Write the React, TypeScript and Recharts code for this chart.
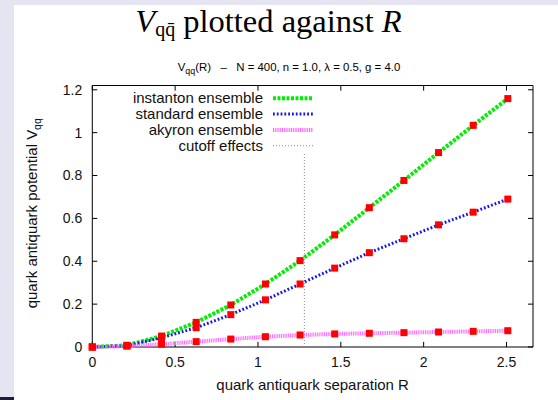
import React from 'react'
import {
	LineChart, Line, XAxis, YAxis, ReferenceArea, ReferenceLine, Legend
} from 'recharts'

// quark-antiquark separation R (lattice units)
const separation = [0, 0.209, 0.418, 0.627, 0.836, 1.045, 1.254, 1.463, 1.672, 1.881, 2.09, 2.299, 2.508]

// potential V_qq for each ensemble
const instanton = [0, 0.008, 0.051, 0.115, 0.196, 0.294, 0.403, 0.523, 0.650, 0.777, 0.907, 1.034, 1.159]
const standard = [0, 0.006, 0.043, 0.090, 0.151, 0.220, 0.294, 0.368, 0.440, 0.505, 0.570, 0.629, 0.690]
const akyron = [0, 0.004, 0.013, 0.025, 0.037, 0.048, 0.056, 0.061, 0.064, 0.067, 0.070, 0.073, 0.076]

const xTicks = [0, 0.5, 1, 1.5, 2, 2.5]
const yTicks = [0, 0.2, 0.4, 0.6, 0.8, 1, 1.2]

const cutoffR = 1.28
const cutoffTop = 0.9

const xMax = 2.66
const yMax = 1.22
// inward tick length, in data units (about 5px)
const tickDx = 0.03
const tickDy = 0.024

const sans = '"Liberation Sans", Arial, Helvetica, sans-serif'
const serif = '"Liberation Serif", "Times New Roman", serif'

const series = [
	{ key: 'instanton', name: 'instanton ensemble', color: '#00ee00', width: 4, dash: '3 1.5' },
	{ key: 'standard', name: 'standard ensemble', color: '#1515ee', width: 3, dash: '1.8 2' },
	{ key: 'akyron', name: 'akyron ensemble', color: '#ff66ff', width: 4, dash: '1 0.8' },
]
const cutoffStyle = { name: 'cutoff effects', color: '#8a8a8a', width: 1, dash: '1 2' }

const data = separation.map((r, i) => ({
	r,
	instanton: instanton[i],
	standard: standard[i],
	akyron: akyron[i],
}))

const RedSquare = (props: any) => {
	const { cx, cy, index } = props
	if (cx == null || cy == null) return null
	return <rect key={index} x={cx - 3.5} y={cy - 3.5} width={7} height={7} fill='#ff0000' />
}

const LegendBox = () => {
	const rows = [...series, cutoffStyle]
	return (
		<svg width={210} height={66}>
			{rows.map((s, i) => {
				const cy = 10.3 + i * 15.8
				return (
					<g key={s.name}>
						<text x={150} y={cy + 5} textAnchor='end' fontSize={15} fontFamily={sans} fill='#111'>
							{s.name}
						</text>
						<line x1={160} x2={200} y1={cy} y2={cy} stroke={s.color}
							strokeWidth={s.width} strokeDasharray={s.dash} />
					</g>
				)
			})}
		</svg>
	)
}

const XLabel = (props: any) => {
	const vb = props.viewBox || { x: 92.3, y: 347, width: 440.7, height: 30 }
	return (
		<text x={vb.x + vb.width / 2} y={vb.y + 43} textAnchor='middle' fontSize={15} fontFamily={sans} fill='#111'>
			quark antiquark separation R
		</text>
	)
}

const YLabel = (props: any) => {
	const vb = props.viewBox || { x: 32.3, y: 85.5, width: 60, height: 261.5 }
	const cx = vb.x + 4.7
	const cy = vb.y + vb.height / 2 - 3
	return (
		<text x={cx} y={cy} transform={`rotate(-90, ${cx}, ${cy})`} textAnchor='middle'
			fontSize={15} fontFamily={sans} fill='#111'>
			quark antiquark potential V<tspan fontSize={10.5} dy={4}>qq</tspan>
		</text>
	)
}

export default function App() {
	return (
		<div style={{ position: 'absolute', left: 0, top: 0, width: 558, height: 400, background: '#e5e5f1', overflow: 'hidden' }}>
			<div style={{ position: 'absolute', left: 14, top: 5, right: 0, bottom: 0, background: '#fff' }} />
			<div style={{ position: 'absolute', left: 0, top: 397, width: 14, height: 3, background: '#1c1c3c' }} />

			<svg width={558} height={85} style={{ position: 'absolute', left: 0, top: 0 }}>
				<text x={268.5} y={32} textAnchor='middle' fontFamily={serif} fontSize={32.5} fill='#000' style={{ whiteSpace: 'pre' }}>
					<tspan fontStyle='italic'>V</tspan>
					<tspan fontSize={20} dy={4}>{'qq\u0304'}</tspan>
					<tspan dy={-4}>{' plotted against '}</tspan>
					<tspan fontStyle='italic'>R</tspan>
				</text>
				<text x={289} y={71} textAnchor='middle' fontFamily={sans} fontSize={11.4} fill='#000' style={{ whiteSpace: 'pre' }}>
					V<tspan fontSize={8.8} dy={3}>qq</tspan>
					<tspan dy={-3}>{'(R)   \u2013   N = 400, n = 1.0, \u03bb = 0.5, g = 4.0'}</tspan>
				</text>
			</svg>

			<div style={{ position: 'absolute', left: 0, top: 0 }}>
				<LineChart width={558} height={400} data={data}
					margin={{ top: 85.5, right: 25, bottom: 23, left: 32.3 }}>
					<XAxis type='number' dataKey='r' domain={[0, xMax]} ticks={xTicks} interval={0}
						axisLine={false} tickLine={false} tickSize={6} tickMargin={4}
						tick={{ fontSize: 14, fontFamily: sans, fill: '#111' }}
						height={30} label={{ content: XLabel }} />
					<YAxis type='number' domain={[0, yMax]} ticks={yTicks} interval={0}
						axisLine={false} tickLine={false} tickSize={6} tickMargin={4}
						tick={{ fontSize: 14, fontFamily: sans, fill: '#111' }}
						width={60} label={{ content: YLabel }} />

					<ReferenceArea x1={0} x2={xMax} y1={0} y2={yMax} fill='none' fillOpacity={0}
						stroke='#000' strokeWidth={1} />

					{/* inward ticks on all four sides */}
					{xTicks.map((t) => (
						<ReferenceLine key={`xb${t}`} segment={[{ x: t, y: 0 }, { x: t, y: tickDy }]} stroke='#000' />
					))}
					{xTicks.map((t) => (
						<ReferenceLine key={`xt${t}`} segment={[{ x: t, y: yMax }, { x: t, y: yMax - tickDy }]} stroke='#000' />
					))}
					{yTicks.map((t) => (
						<ReferenceLine key={`yl${t}`} segment={[{ x: 0, y: t }, { x: tickDx, y: t }]} stroke='#000' />
					))}
					{yTicks.map((t) => (
						<ReferenceLine key={`yr${t}`} segment={[{ x: xMax, y: t }, { x: xMax - tickDx, y: t }]} stroke='#000' />
					))}

					<ReferenceLine segment={[{ x: cutoffR, y: 0 }, { x: cutoffR, y: cutoffTop }]}
						stroke={cutoffStyle.color} strokeWidth={cutoffStyle.width} strokeDasharray={cutoffStyle.dash} />

					{series.map((s) => (
						<Line key={s.key} type='linear' dataKey={s.key} name={s.name} stroke={s.color}
							strokeWidth={s.width} strokeDasharray={s.dash} dot={false} activeDot={false}
							isAnimationActive={false} />
					))}
					{series.map((s) => (
						<Line key={`${s.key}-pts`} type='linear' dataKey={s.key} stroke='none' legendType='none'
							dot={RedSquare} activeDot={false} isAnimationActive={false} />
					))}

					<Legend layout='horizontal' verticalAlign='middle' align='center' content={LegendBox}
						wrapperStyle={{ left: 113, top: 88, width: 210, height: 66 }} />
				</LineChart>
			</div>
		</div>
	)
}
